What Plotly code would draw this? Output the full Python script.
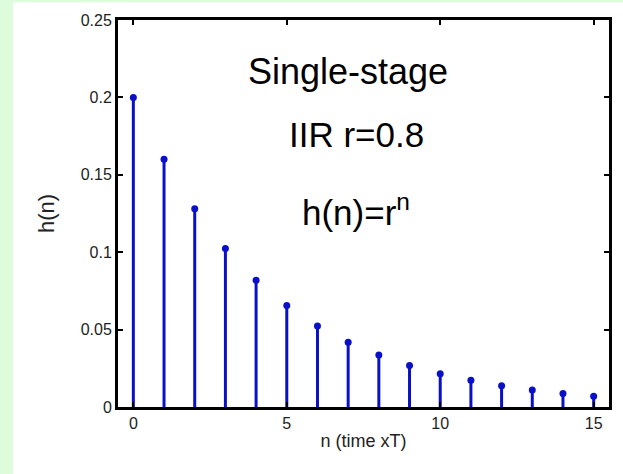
import plotly.graph_objects as go

n = list(range(16))
h = [0.2, 0.16, 0.128, 0.1024, 0.0819, 0.0655, 0.0524, 0.0419,
     0.0336, 0.0268, 0.0215, 0.0172, 0.0137, 0.011, 0.0088, 0.007]

x_ticks = [0, 5, 10, 15]
y_ticks = [0, 0.05, 0.1, 0.15, 0.2, 0.25]
y_tick_text = ['0', '0.05', '0.1', '0.15', '0.2', '0.25']

# stems: vertical segments from 0 up to each value
stem_x, stem_y = [], []
for xi, yi in zip(n, h):
    stem_x += [xi, xi, None]
    stem_y += [0, yi, None]

blue = '#0a10c8'
font = 'Arial, Liberation Sans, sans-serif'

fig = go.Figure()
fig.add_trace(go.Scatter(x=stem_x, y=stem_y, mode='lines',
                         line=dict(color=blue, width=3), hoverinfo='skip'))
fig.add_trace(go.Scatter(x=n, y=h, mode='markers',
                         marker=dict(color=blue, size=7)))

fig.update_layout(
    width=623, height=474,
    margin=dict(l=118, r=14, t=20, b=67),
    paper_bgcolor='#dcfcdc',
    plot_bgcolor='white',
    showlegend=False,
    font=dict(family=font, color='#222'),
    shapes=[dict(type='rect', xref='paper', yref='paper',
                 x0=-0.214, x1=1.03, y0=-0.18, y1=1.046,
                 fillcolor='white', line_width=0, layer='below')],
    annotations=[
        dict(text='Single-stage', x=0.468, y=0.866, xref='paper', yref='paper',
             yanchor='middle', showarrow=False, font=dict(size=36, color='black')),
        dict(text='IIR r=0.8', x=0.485, y=0.705, xref='paper', yref='paper',
             yanchor='middle', showarrow=False, font=dict(size=35, color='black')),
        dict(text='h(n)=r<sup>n</sup>', x=0.485, y=0.508, xref='paper', yref='paper',
             yanchor='middle', showarrow=False, font=dict(size=35, color='black')),
    ],
)

fig.update_xaxes(
    range=[-0.5, 15.5], tickvals=x_ticks, ticks='inside', ticklen=5,
    tickwidth=2, tickcolor='black', showline=True, linecolor='black',
    linewidth=3, mirror='ticks', showgrid=False, zeroline=False,
    tickfont=dict(size=16),
    title=dict(text='n (time xT)', font=dict(size=18), standoff=4),
)
fig.update_yaxes(
    range=[0, 0.25], tickvals=y_ticks, ticktext=y_tick_text, ticks='inside',
    ticklen=5, tickwidth=2, tickcolor='black', showline=True,
    linecolor='black', linewidth=3, mirror='ticks', showgrid=False,
    zeroline=False, tickfont=dict(size=16),
    title=dict(text='h(n)', font=dict(size=22), standoff=20),
)

fig.write_html('out.html', config={'displayModeBar': False},
               post_script="document.body.style.margin='0';")
